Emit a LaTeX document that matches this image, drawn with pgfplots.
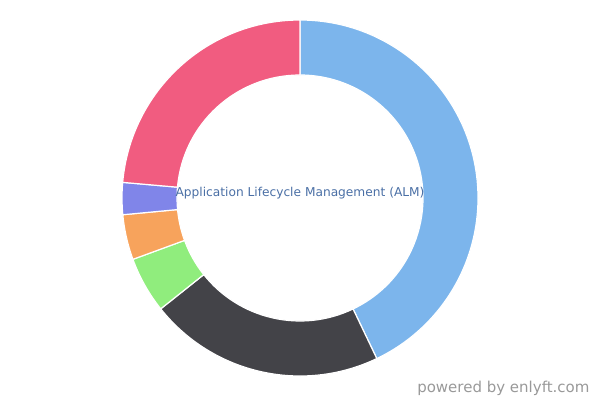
\documentclass[border=0pt]{standalone}
\usepackage{pgfplots}
\usepackage{pgfplotstable}
\pgfplotsset{compat=1.18}
\usepackage{fontspec}
\setmainfont{DejaVu Sans}
\definecolor{c1}{HTML}{7CB5EC}
\definecolor{c2}{HTML}{434348}
\definecolor{c3}{HTML}{90ED7D}
\definecolor{c4}{HTML}{F7A35C}
\definecolor{c5}{HTML}{8085E9}
\definecolor{c6}{HTML}{F15C80}
\definecolor{lbl}{HTML}{4A6FA5}
\definecolor{credit}{HTML}{999999}
\pgfplotstableread{
value color
42.9 c1
21.4 c2
5.1 c3
4.1 c4
2.9 c5
23.6 c6
}\datatable
\begin{document}
\begin{tikzpicture}
\begin{axis}[x=1pt,y=1pt,xmin=0,xmax=600,ymin=0,ymax=400,hide axis,scale only axis,clip=false]
\path (axis cs:0,0) rectangle (axis cs:600,400);
\pgfplotstablegetrowsof{\datatable}
\pgfmathtruncatemacro\N{\pgfplotsretval-1}
\def\cum{0}
\pgfplotsforeachungrouped \i in {0,...,\N} {
  \pgfplotstablegetelem{\i}{value}\of\datatable \let\v\pgfplotsretval
  \pgfplotstablegetelem{\i}{color}\of\datatable \let\c\pgfplotsretval
  \pgfmathsetmacro\s{90-3.6*\cum}
  \pgfmathsetmacro\e{90-3.6*(\cum+\v)}
  \pgfmathsetmacro\cum{\cum+\v}
  \pgfmathsetmacro\xa{300+178*cos(\s)}
  \pgfmathsetmacro\ya{202+178*sin(\s)}
  \pgfmathsetmacro\xb{300+123*cos(\e)}
  \pgfmathsetmacro\yb{202+123*sin(\e)}
  \edef\temp{\noexpand\fill[\c, draw=white, line width=1.2pt, line join=round] (axis cs:\xa,\ya) arc[start angle=\s, end angle=\e, radius=178pt] -- (axis cs:\xb,\yb) arc[start angle=\e, end angle=\s, radius=123pt] -- cycle;}
  \temp
}
\node[text=lbl, font=\fontsize{12.2}{14}\selectfont] at (axis cs:300,207) {Application Lifecycle Management (ALM)};
\node[text=credit, anchor=base east, font=\fontsize{15}{17}\selectfont] at (axis cs:593,8) {powered by enlyft.com};
\end{axis}
\end{tikzpicture}
\end{document}
